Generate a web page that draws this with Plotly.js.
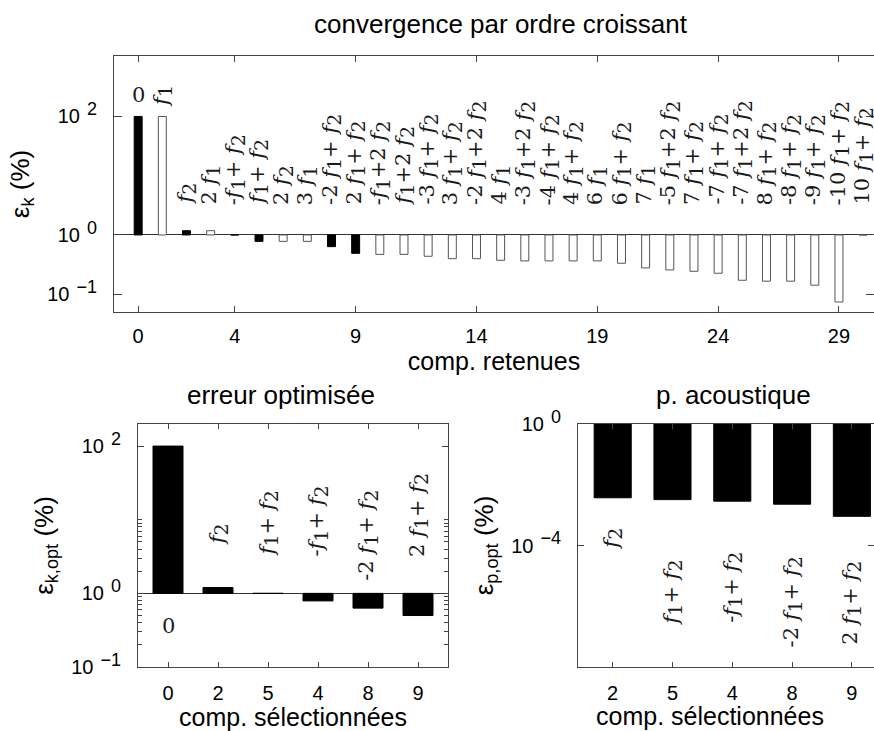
<!DOCTYPE html>
<html>
<head>
<meta charset="utf-8">
<script src="https://cdn.plot.ly/plotly-3.0.1.min.js"></script>
<style>html,body{margin:0;padding:0;background:#fff;}</style>
</head>
<body>
<div id="chart" style="width:874px;height:731px;"></div>
<script>
// ---------- data ----------
const compRetenues = [0,1,2,3,4,5,6,7,8,9,10,11,12,13,14,15,16,17,18,19,20,21,22,23,24,25,26,27,28,29,30];
const convErr = [100, 100, 1.18, 1.18, 1.0, 0.78, 0.78, 0.78, 0.635, 0.49, 0.47, 0.47, 0.437, 0.398, 0.398,
                 0.374, 0.365, 0.365, 0.365, 0.365, 0.333, 0.278, 0.257, 0.244, 0.226, 0.172, 0.166, 0.166, 0.142, 0.074, 1.0];
const convLabels = ['0','f1','f2','2 f1','-f1+ f2','f1+ f2','2 f2','3 f1','-2 f1+ f2','2 f1+ f2','-f1+2 f2','f1+2 f2',
                    '-3 f1+ f2','3 f1+ f2','-2 f1+2 f2','4 f1','-3 f1+2 f2','-4 f1+ f2','4 f1+ f2','6 f1','6 f1+ f2','7 f1',
                    '-5 f1+2 f2','7 f1+ f2','-7 f1+ f2','-7 f1+2 f2','8 f1+ f2','-8 f1+ f2','-9 f1+ f2','-10 f1+ f2','10 f1+ f2'];
const selectedComps = [0, 2, 5, 4, 8, 9];

const optCats = ['0','2','5','4','8','9'];
const optErr = [100, 1.2, 1.0, 0.79, 0.63, 0.50];
const optLabels = ['0','f2','f1+ f2','-f1+ f2','-2 f1+ f2','2 f1+ f2'];

const acCats = ['2','5','4','8','9'];
const acErr = [0.00372, 0.00324, 0.00288, 0.00229, 0.000912];
const acLabels = ['f2','f1+ f2','-f1+ f2','-2 f1+ f2','2 f1+ f2'];

// ---------- helpers ----------
const W = 874, H = 731;
const px = x => x / W;
const py = y => 1 - y / H;
const lg = v => Math.log10(v);
const fmt = s => s.replace(/f(\d)/g, '<i>f</i><sub><span style="font-size:19px">$1</span></sub>');
const pow10 = n => '10<sup>\u2002<span style="font-size:18px">' + String(n).replace('-', '\u2212') + '</span></sup>';
const labelFont = {family: 'DejaVu Serif, Liberation Serif, serif', size: 21, color: '#1a1a1a'};
const tickFont = {family: 'Liberation Sans, Arial, sans-serif', size: 20, color: '#000'};
const AX = '#444';

const traces = [];
// top chart
traces.push({
  type: 'bar', x: compRetenues, y: convErr.map(lg), base: 0, width: 0.33,
  marker: {
    color: compRetenues.map(c => selectedComps.includes(c) ? '#000' : '#fff'),
    line: {color: compRetenues.map(c => selectedComps.includes(c) ? '#000' : '#555'), width: 1}
  },
  xaxis: 'x', yaxis: 'y'
});
// bottom left
traces.push({
  type: 'bar', x: optCats, y: optErr.map(lg), base: 0, width: 0.6,
  marker: {color: '#000', line: {color: '#000', width: 1}},
  xaxis: 'x2', yaxis: 'y2'
});
// bottom right
traces.push({
  type: 'bar', x: acCats, y: acErr.map(lg), base: 0, width: 0.62,
  marker: {color: '#000', line: {color: '#000', width: 1}},
  xaxis: 'x3', yaxis: 'y3'
});

const annotations = [];
// top labels
compRetenues.forEach((c, i) => {
  const upright = convLabels[i] === '0';
  annotations.push({
    xref: 'x', yref: 'y', x: c, y: Math.max(lg(convErr[i]) + 0.15, 0.49),
    text: fmt(convLabels[i]), textangle: upright ? 0 : -90,
    xanchor: 'center', yanchor: 'bottom', showarrow: false, font: labelFont, borderpad: 0
  });
});
// bottom-left labels (x = category index)
const optLabelPos = [-0.44, 0.64, 0.49, 0.48, 0.15, 0.48];
optCats.forEach((c, i) => {
  const upright = optLabels[i] === '0';
  annotations.push({
    xref: 'x2', yref: 'y2', x: i, y: optLabelPos[i],
    text: fmt(optLabels[i]), textangle: upright ? 0 : -90,
    xanchor: 'center', yanchor: upright ? 'middle' : 'bottom', showarrow: false, font: labelFont, borderpad: 0
  });
});
// bottom-right labels (x = category index)
const acLabelPos = [-3.39, -4.41, -4.18, -4.34, -4.47];
acCats.forEach((c, i) => {
  annotations.push({
    xref: 'x3', yref: 'y3', x: i, y: acLabelPos[i],
    text: fmt(acLabels[i]), textangle: -90,
    xanchor: 'center', yanchor: 'top', showarrow: false, font: labelFont, borderpad: 0
  });
});
// subplot titles
const titleFont = {family: 'Liberation Sans, Arial, sans-serif', size: 26, color: '#000'};
annotations.push({xref: 'paper', yref: 'paper', x: px(501), y: py(24), text: 'convergence par ordre croissant',
  showarrow: false, xanchor: 'center', yanchor: 'middle', font: titleFont});
annotations.push({xref: 'paper', yref: 'paper', x: px(281), y: py(395), text: 'erreur optimisée',
  showarrow: false, xanchor: 'center', yanchor: 'middle', font: titleFont});
annotations.push({xref: 'paper', yref: 'paper', x: px(733), y: py(395), text: 'p. acoustique',
  showarrow: false, xanchor: 'center', yanchor: 'middle', font: titleFont});
annotations.push({xref: 'paper', yref: 'paper', x: px(710), y: 0, text: 'comp. sélectionnées',
  showarrow: false, xanchor: 'center', yanchor: 'bottom', borderpad: 0,
  font: {family: 'Liberation Sans, Arial, sans-serif', size: 25, color: '#000'}});

const axisBase = {
  showline: true, linecolor: AX, linewidth: 1, mirror: 'ticks', ticks: 'inside', tickcolor: AX,
  showgrid: false, zeroline: false, tickfont: tickFont, fixedrange: true
};
const minorVals = [];
for (let k = 2; k <= 9; k++) { minorVals.push(lg(k) - 1); minorVals.push(lg(k)); }
minorVals.push(1);

const layout = {
  width: W, height: H, margin: {l: 0, r: 0, t: 0, b: 0},
  paper_bgcolor: '#fff', plot_bgcolor: '#fff', showlegend: false,
  font: {family: 'Liberation Sans, Arial, sans-serif', color: '#000'},
  xaxis: Object.assign({}, axisBase, {
    domain: [px(114), 1], anchor: 'y', range: [-1, 30.45],
    tickmode: 'array', tickvals: [0, 4, 9, 14, 19, 24, 29], ticklen: 6, ticklabelstandoff: 6,
    title: {text: 'comp. retenues', font: {size: 25}, standoff: 2}
  }),
  yaxis: Object.assign({}, axisBase, {
    domain: [py(312), py(56)], anchor: 'x', range: [-1.30, 3.02],
    tickmode: 'array', tickvals: [-1, 0, 2], ticktext: [pow10(-1), pow10(0), pow10(2)], ticklen: 8,
    ticklabelstandoff: 12,
    zeroline: true, zerolinecolor: '#333', zerolinewidth: 1,
    title: {text: 'ε<sub>k</sub> (%)', font: {size: 26}, standoff: 10}
  }),
  xaxis2: Object.assign({}, axisBase, {
    domain: [px(138), px(448)], anchor: 'y2', type: 'category', range: [-0.6, 5.6],
    ticklen: 5, ticklabelstandoff: 8,
    title: {text: 'comp. sélectionnées', font: {size: 25}, standoff: 0}
  }),
  yaxis2: Object.assign({}, axisBase, {
    domain: [py(667), py(424)], anchor: 'x2', range: [-1, 2.30],
    tickmode: 'array', tickvals: [-1, 0, 2], ticktext: [pow10(-1), pow10(0), pow10(2)], ticklen: 6,
    ticklabelstandoff: 12,
    minor: {tickmode: 'array', tickvals: minorVals, ticklen: 4, ticks: 'inside', tickcolor: AX},
    zeroline: true, zerolinecolor: '#333', zerolinewidth: 1,
    title: {text: 'ε<sub>k,opt</sub> (%)', font: {size: 26}, standoff: 10}
  }),
  xaxis3: Object.assign({}, axisBase, {
    domain: [px(578), 1], anchor: 'y3', type: 'category', range: [-0.58, 4.37],
    ticklen: 5, ticklabelstandoff: 8
  }),
  yaxis3: Object.assign({}, axisBase, {
    domain: [py(667), py(424)], anchor: 'x3', range: [-8, 0],
    tickmode: 'array', tickvals: [-4, 0], ticktext: [pow10(-4), pow10(0)], ticklen: 6,
    ticklabelstandoff: 12,
    title: {text: 'ε<sub>p,opt</sub> (%)', font: {size: 26}, standoff: 10}
  }),
  annotations: annotations
};

Plotly.newPlot('chart', traces, layout, {displayModeBar: false, staticPlot: true});
</script>
</body>
</html>
